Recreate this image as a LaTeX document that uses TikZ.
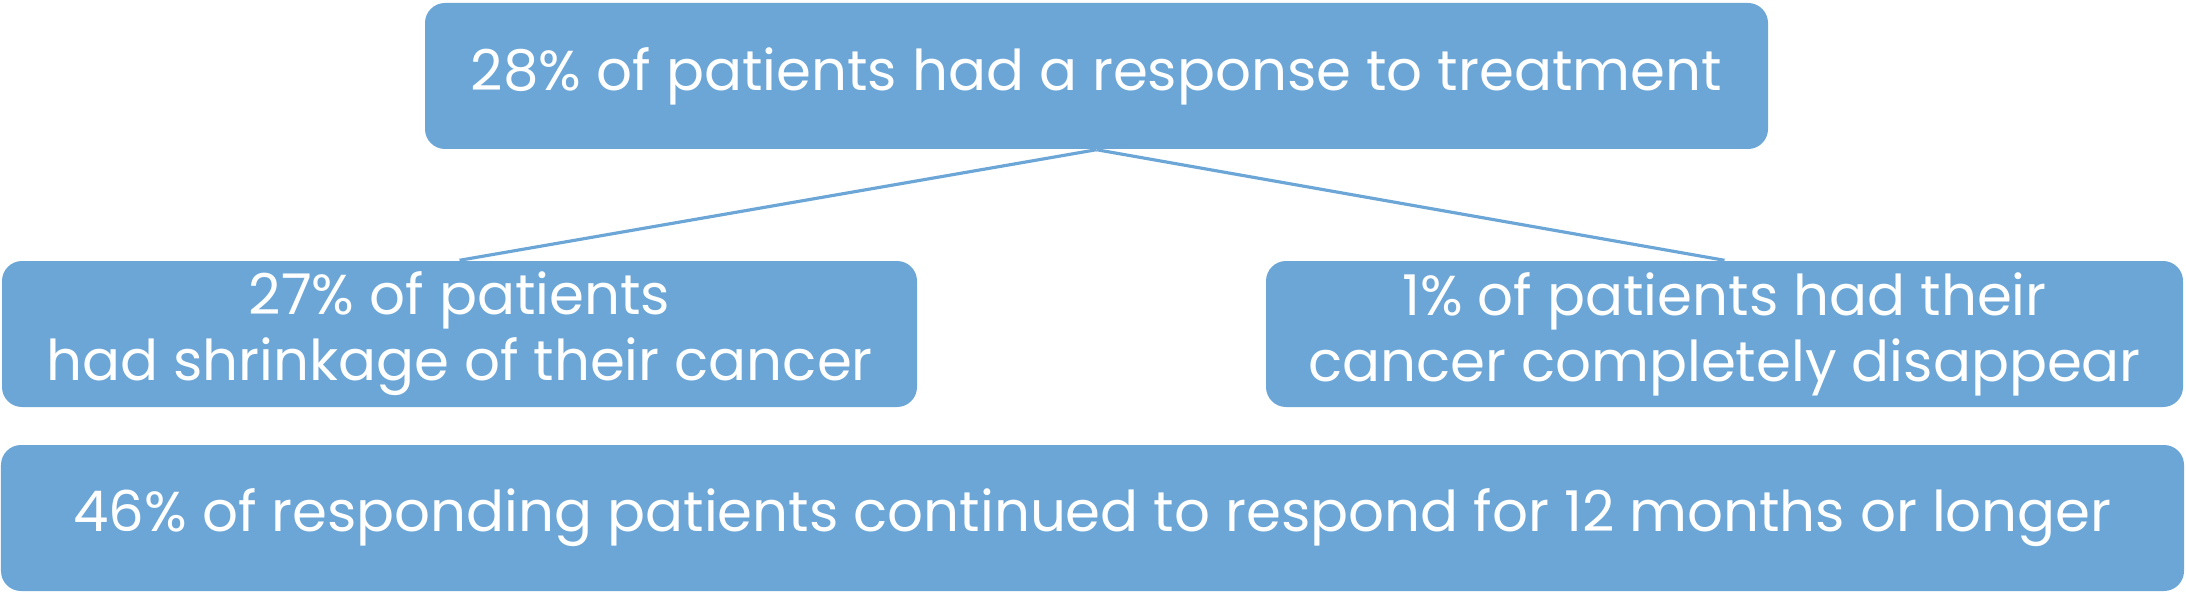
\documentclass[tikz,border=0pt]{standalone}
\usepackage{fontspec}
\setmainfont{Poppins}
\usepackage{tikz}

\definecolor{boxblue}{HTML}{6BA6D7}

\begin{document}
\begin{tikzpicture}[
	infobox/.style={rectangle,fill=boxblue,rounded corners=0.2cm,inner sep=0pt,
		minimum height=1.46cm,align=center,text=white,
		font=\fontsize{16}{18.8}\selectfont},
	link/.style={draw=boxblue,line width=0.9pt}
	]

		\useasboundingbox (0,0) rectangle (21.86,-5.95);

		\node[infobox,minimum width=13.43cm] (resp) at (10.965,-0.76)
			{28\% of patients had a response to treatment};
		\node[infobox,minimum width=9.15cm] (shrink) at (4.595,-3.34)
			{27\% of patients\\had shrinkage of their cancer};
		\node[infobox,minimum width=9.17cm] (gone) at (17.245,-3.34)
			{1\% of patients had their\\cancer completely disappear};
		\node[infobox,minimum width=21.83cm] (dur) at (10.925,-5.18)
			{46\% of responding patients continued to respond for 12 months or longer};

		\path[link] (resp.south) -- (shrink.north);
		\path[link] (resp.south) -- (gone.north);

	\end{tikzpicture}
\end{document}
